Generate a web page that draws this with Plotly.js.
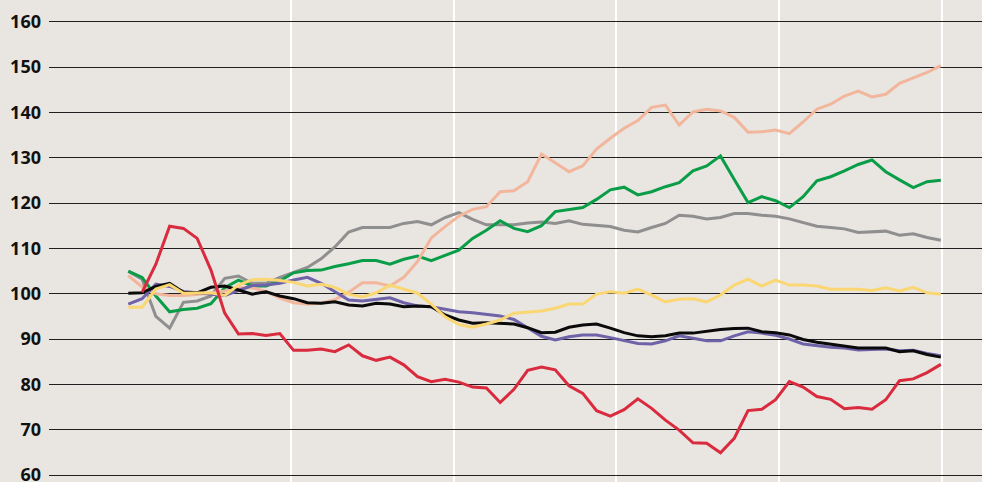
<!DOCTYPE html>
<html>
<head>
<meta charset="utf-8">
<script src="https://cdn.plot.ly/plotly-3.0.1.min.js"></script>
<style>html,body{margin:0;padding:0;background:#e9e5e1;}#chart{width:982px;height:482px;}</style>
</head>
<body>
<div id="chart"></div>
<script>
// Index values (start = 100), one point per period
const red = [null, 100.3, 106.5, 114.9, 114.4, 112.2, 105.2, 95.7, 91.1, 91.2, 90.8, 91.2, 87.5,
  87.5, 87.8, 87.2, 88.7, 86.3, 85.3, 86.0, 84.3, 81.7, 80.6, 81.1,
  80.5, 79.4, 79.2, 76.0, 78.9, 83.1, 83.8, 83.2, 79.7, 78.0, 74.2, 73.0,
  74.4, 76.8, 74.7, 72.1, 69.9, 67.1, 67.0, 64.9, 68.1, 74.2, 74.5, 76.6,
  80.6, 79.4, 77.3, 76.7, 74.6, 74.9, 74.5, 76.6, 80.8, 81.2, 82.6, 84.4];

const salmon = [104.0, 101.5, 100.0, 99.6, 99.6, 99.8, 100.1, 100.6, 101.3, 101.3, 100.5, 99.0,
  98.0, 97.7, 97.9, 98.7, 100.3, 102.4, 102.4, 101.7, 103.6, 107.1, 112.3, 114.8,
  117.1, 118.6, 119.2, 122.5, 122.7, 124.7, 130.8, 128.9, 126.9, 128.2, 131.9, 134.3,
  136.5, 138.2, 141.1, 141.6, 137.2, 140.1, 140.7, 140.3, 138.9, 135.6, 135.7, 136.1,
  135.3, 137.9, 140.7, 141.8, 143.6, 144.7, 143.4, 144.0, 146.4, 147.6, 148.8, 150.3];

const green = [105.0, 103.6, 99.5, 96.0, 96.5, 96.8, 97.8, 101.3, 103.0, 101.7, 101.7, 102.8,
  104.6, 105.1, 105.2, 106.0, 106.6, 107.3, 107.3, 106.5, 107.6, 108.3, 107.3, 108.5,
  109.6, 112.2, 114.0, 116.1, 114.4, 113.7, 115.0, 118.1, 118.6, 119.0, 120.8, 122.9,
  123.5, 121.8, 122.5, 123.6, 124.5, 127.1, 128.2, 130.4, 125.2, 120.1, 121.4, 120.5,
  119.0, 121.4, 124.9, 125.8, 127.1, 128.5, 129.5, 126.9, 125.1, 123.4, 124.7, 125.0];

const gray = [104.9, 103.2, 95.0, 92.4, 98.1, 98.4, 99.5, 103.4, 103.9, 102.3, 102.3, 103.6,
  104.7, 105.8, 107.7, 110.3, 113.6, 114.6, 114.6, 114.6, 115.5, 115.9, 115.2, 116.8,
  117.9, 116.4, 115.2, 115.2, 115.2, 115.6, 115.8, 115.5, 116.1, 115.3, 115.0, 114.8,
  114.0, 113.6, 114.6, 115.5, 117.3, 117.1, 116.5, 116.8, 117.7, 117.7, 117.3, 117.1,
  116.5, 115.7, 114.9, 114.6, 114.3, 113.5, 113.6, 113.8, 112.9, 113.2, 112.4, 111.8];

const yellow = [97.0, 97.0, 101.0, 102.0, 100.1, 100.2, 100.2, 99.6, 101.9, 103.1, 103.2, 102.9,
  102.5, 101.7, 102.1, 101.4, 99.9, 99.3, 100.2, 101.9, 101.0, 100.1, 97.7, 94.9,
  93.2, 92.6, 93.3, 94.2, 95.7, 96.0, 96.2, 96.8, 97.7, 97.7, 99.9, 100.4,
  100.1, 101.0, 99.7, 98.2, 98.8, 98.9, 98.2, 99.7, 101.9, 103.2, 101.7, 103.0,
  101.9, 101.9, 101.7, 101.0, 101.0, 101.0, 100.7, 101.3, 100.6, 101.4, 100.2, 99.9];

const black = [100.1, 100.2, 101.6, 102.3, 100.3, 100.2, 101.4, 101.7, 100.8, 99.9, 100.4, 99.5,
  98.9, 98.0, 97.9, 98.2, 97.5, 97.3, 97.9, 97.7, 97.1, 97.3, 97.1, 95.3,
  94.2, 93.5, 93.6, 93.5, 93.3, 92.5, 91.4, 91.5, 92.6, 93.1, 93.3, 92.4,
  91.4, 90.7, 90.5, 90.7, 91.3, 91.3, 91.7, 92.1, 92.3, 92.4, 91.6, 91.4,
  90.9, 89.9, 89.3, 88.9, 88.5, 88.0, 88.0, 88.0, 87.2, 87.4, 86.6, 86.0];

const purple = [97.7, 98.9, 102.1, 101.6, 100.5, 100.2, 99.9, 99.6, 100.7, 101.8, 101.9, 102.3,
  103.0, 103.6, 102.3, 100.4, 98.6, 98.4, 98.8, 99.1, 98.0, 97.3, 97.1, 96.6,
  96.0, 95.8, 95.5, 95.1, 94.3, 92.4, 90.6, 89.8, 90.5, 90.9, 90.9, 90.3,
  89.6, 89.0, 88.9, 89.6, 90.7, 90.2, 89.6, 89.6, 90.7, 91.6, 91.3, 90.8,
  90.0, 88.9, 88.5, 88.2, 88.0, 87.6, 87.7, 87.8, 87.4, 87.5, 86.8, 86.3];

const yTicks = [60, 70, 80, 90, 100, 110, 120, 130, 140, 150, 160];

const periods = salmon.map((_, i) => i);

const seriesList = [
  {name: 'Gray', y: gray, color: '#8f8f8f'},
  {name: 'Green', y: green, color: '#0a9d47'},
  {name: 'Salmon', y: salmon, color: '#f2b69c'},
  {name: 'Purple', y: purple, color: '#6e62a8'},
  {name: 'Black', y: black, color: '#0a0a0a'},
  {name: 'Yellow', y: yellow, color: '#fad772'},
  {name: 'Red', y: red, color: '#d92a3e'}
];

const traces = seriesList.map(s => ({
  type: 'scatter', mode: 'lines', name: s.name,
  x: periods, y: s.y,
  line: {color: s.color, width: 3},
  hoverinfo: 'skip'
}));

const layout = {
  width: 982, height: 482,
  margin: {l: 49, r: 0, t: 0, b: 0, pad: 0},
  paper_bgcolor: '#e9e5e1',
  plot_bgcolor: '#e9e5e1',
  showlegend: false,
  xaxis: {
    range: [-5.76, 61.99],
    tickmode: 'array',
    tickvals: [11.82, 23.63, 35.44, 47.25, 59.05],
    showticklabels: false,
    ticks: '',
    showgrid: true, gridcolor: '#ffffff', gridwidth: 2,
    zeroline: false, showline: false
  },
  yaxis: {
    range: [58.456, 164.79],
    tickmode: 'array',
    tickvals: yTicks,
    ticktext: yTicks.map(String),
    ticks: '',
    ticklabelstandoff: 7,
    ticklabeloverflow: 'allow',
    tickfont: {family: 'Open Sans, sans-serif', size: 18, color: '#111111', weight: 700},
    showgrid: true, gridcolor: '#1f1f1f', gridwidth: 1,
    zeroline: false, showline: false
  }
};

Plotly.newPlot('chart', traces, layout, {staticPlot: true, displayModeBar: false});
</script>
</body>
</html>
